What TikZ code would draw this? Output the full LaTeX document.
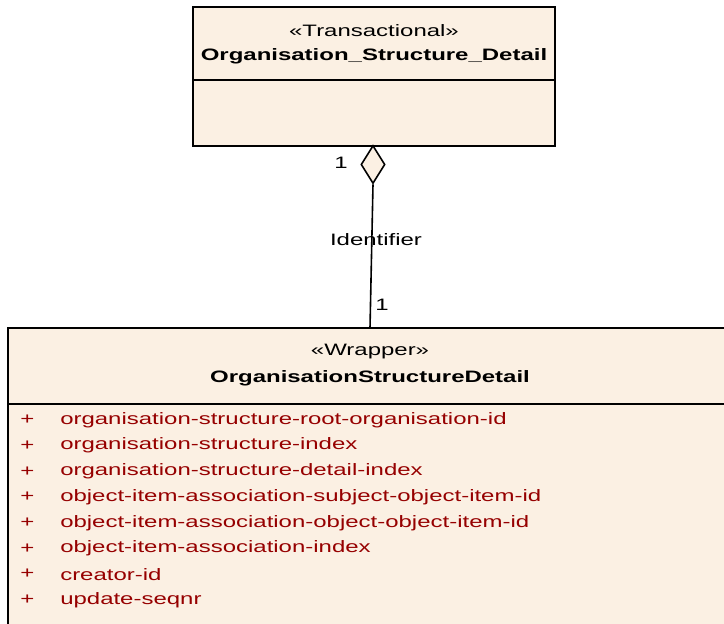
\documentclass[tikz,border=0pt]{standalone}
\usepackage{fontspec}
\setmainfont{Liberation Sans}[FakeStretch=1.45]
\usepackage{xcolor}
\usetikzlibrary{positioning, shapes.geometric}
\definecolor{classfill}{RGB}{251,240,227}
\definecolor{attrred}{RGB}{150,0,0}

\begin{document}
\begin{tikzpicture}[
        x=0.75pt, y=-0.75pt,
        classbox/.style={rectangle, draw, fill=classfill, line width=1.2pt, inner sep=0pt},
        stereo/.style={font=\fontsize{12.4}{14}\selectfont},
        cname/.style={font=\fontsize{12.4}{14}\selectfont\bfseries},
        attr/.style={anchor=west, text=attrred, font=\fontsize{12.4}{14}\selectfont, inner sep=0pt},
        lbl/.style={font=\fontsize{12.4}{14}\selectfont},
    ]
        \useasboundingbox (0,0) rectangle (724,624);
        \clip (0,0) rectangle (724,624);

        % Classes
        \node[classbox, minimum width=271.5pt, minimum height=104.25pt] (txn) at (374,76.5) {};
        \node[stereo] (txnst) at (374,31) {«Transactional»};
        \node[cname] (txnname) at (374,56) {Organisation\_Structure\_Detail};
        \draw[line width=1.2pt] (txn.west |- 0,80) -- (txn.east |- 0,80);

        \node[classbox, minimum width=545.25pt, minimum height=234pt] (wrap) at (371.5,484) {};
        \node[stereo] (wrapst) at (370,352) {«Wrapper»};
        \node[cname] (wrapname) at (370,378) {OrganisationStructureDetail};
        \draw[line width=1.2pt] (wrap.west |- 0,404) -- (wrap.east |- 0,404);

        % Attributes
        \foreach \i/\a in {0/organisation-structure-root-organisation-id,
                           1/organisation-structure-index,
                           2/organisation-structure-detail-index,
                           3/object-item-association-subject-object-item-id,
                           4/object-item-association-object-object-item-id,
                           5/object-item-association-index,
                           6/creator-id,
                           7/update-seqnr} {
            \node[attr] (plus\i) at (20,420+25.7*\i) {+};
            \node[attr] (attr\i) at (60,420+25.7*\i) {\a};
        }

        % Aggregation
        \node[diamond, draw, fill=classfill, line width=1.2pt, inner sep=0pt,
              minimum width=18pt, minimum height=28.5pt] (agg) at (373,164.5) {};
        \coordinate (wraptop) at (370,328);
        \draw[line width=1.2pt] (agg.south) -- (wraptop);
        \node[lbl] (mult1) at (341,163) {1};
        \node[lbl] (role) at (376,240) {Identifier};
        \node[lbl] (mult2) at (382,305) {1};

    \end{tikzpicture}
\end{document}
